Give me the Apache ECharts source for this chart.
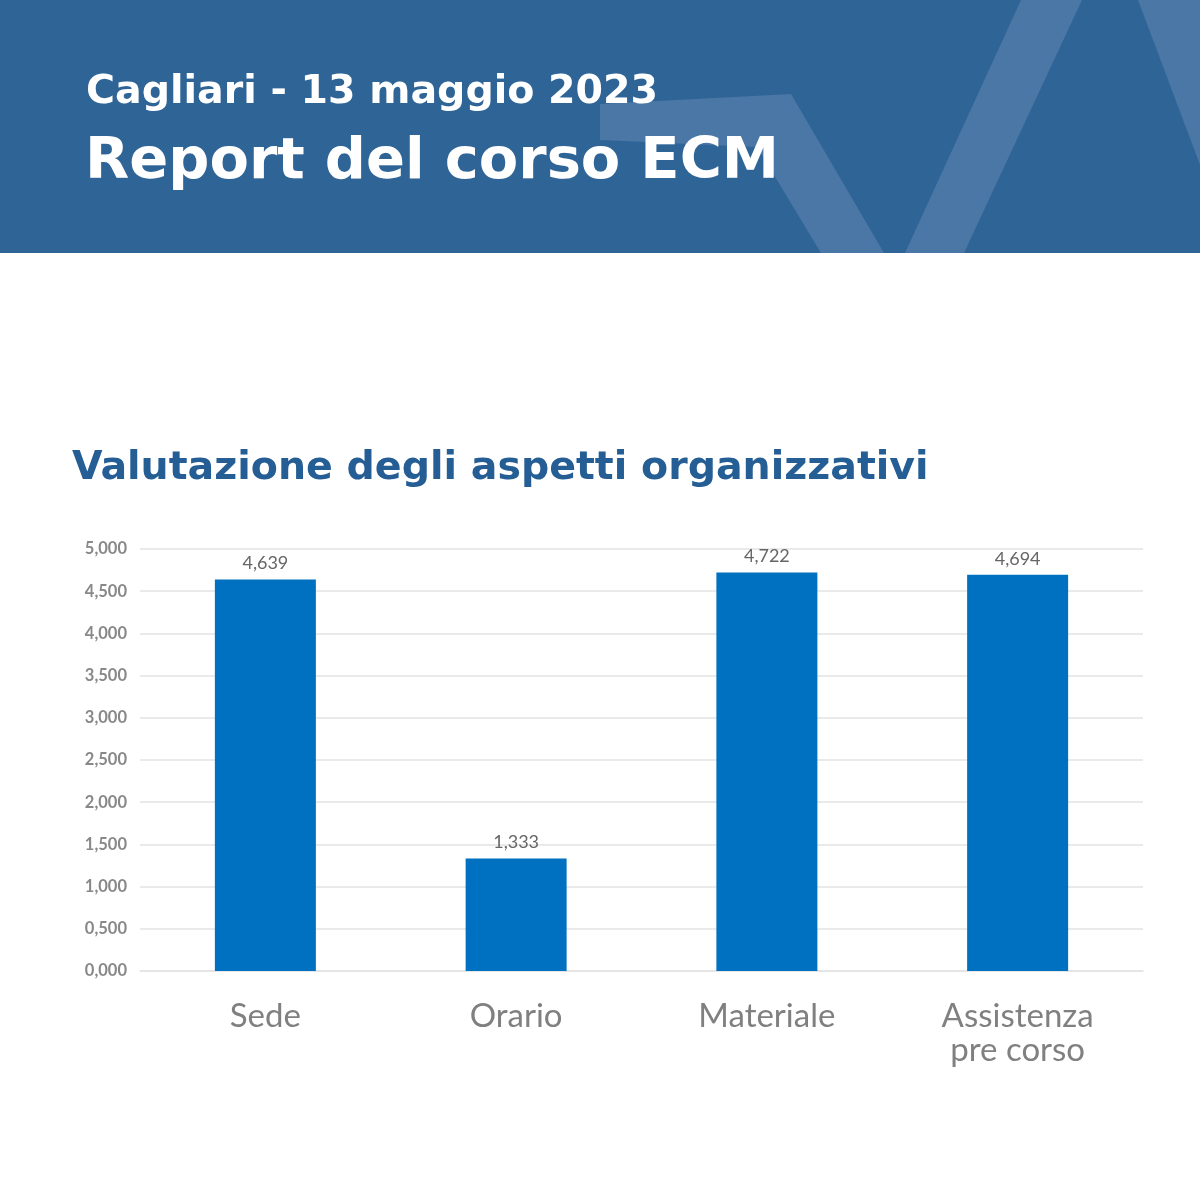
<!DOCTYPE html>
<html>
<head>
<meta charset="utf-8">
<title>Report del corso ECM</title>
<script src="https://cdn.jsdelivr.net/npm/echarts@6/dist/echarts.min.js"></script>
<style>
    html, body { margin: 0; padding: 0; background: #ffffff; }
    #chart { width: 1200px; height: 1200px; }
</style>
</head>
<body>
<div id="chart"></div>
<script>
// dati del grafico
var categories = ['Sede', 'Orario', 'Materiale', 'Assistenza\npre corso'];
var valori = [4.639, 1.333, 4.722, 4.694];
var yMin = 0, yMax = 5, yStep = 0.5;

var bandColor = '#2f6496';
var shapeColor = '#4a77a5';

// numero con virgola decimale
function fmt(v, d) {
    return Number(v).toFixed(d).replace('.', ',');
}

var myChart = echarts.init(document.getElementById('chart'));
var option = {
    backgroundColor: '#ffffff',
    graphic: [
        { type: 'rect', shape: { x: 0, y: 0, width: 1200, height: 253 }, style: { fill: bandColor }, z: 0 },
        { type: 'polygon', shape: { points: [[600, 104], [791, 94], [884, 253], [821, 253], [757, 147], [600, 140]] }, style: { fill: shapeColor }, z: 1 },
        { type: 'polygon', shape: { points: [[905, 253], [964, 253], [1082, 0], [1021, 0]] }, style: { fill: shapeColor }, z: 1 },
        { type: 'polygon', shape: { points: [[1138, 0], [1200, 0], [1200, 165]] }, style: { fill: shapeColor }, z: 1 },
        {
            type: 'text', left: 86, top: 73, z: 5,
            style: { text: 'Cagliari - 13 maggio 2023', fill: '#ffffff', font: 'bold 39.5px "DejaVu Sans"' }
        },
        {
            type: 'text', left: 85, top: 134, z: 5,
            style: { text: 'Report del corso ECM', fill: '#ffffff', font: 'bold 57.5px "DejaVu Sans"' }
        },
        {
            type: 'text', left: 72, top: 449, z: 5,
            style: { text: 'Valutazione degli aspetti organizzativi', fill: '#245e95', font: 'bold 39.5px "DejaVu Sans"' }
        }
    ],
    grid: {
        left: 140,
        right: 57,
        top: 549,
        bottom: 229
    },
    xAxis: {
        type: 'category',
        data: categories,
        axisLine: { lineStyle: { color: '#e3e3e3', width: 1.5 } },
        axisTick: { show: false },
        axisLabel: {
            color: '#808080',
            fontFamily: 'Lato',
            fontSize: 33,
            lineHeight: 34,
            margin: 28,
            interval: 0
        }
    },
    yAxis: {
        type: 'value',
        min: yMin,
        max: yMax,
        interval: yStep,
        axisLine: { show: false },
        axisTick: { show: false },
        splitLine: { lineStyle: { color: '#e3e3e3', width: 1.5 } },
        axisLabel: {
            color: '#888888',
            fontFamily: 'Lato',
            fontWeight: 'bold',
            fontSize: 16.5,
            margin: 13,
            formatter: function (v) { return fmt(v, 3); }
        }
    },
    series: [
        {
            type: 'bar',
            data: valori,
            barWidth: 101,
            itemStyle: { color: '#0070c0' },
            label: {
                show: true,
                position: 'top',
                distance: 7,
                color: '#666666',
                fontFamily: 'Lato',
                fontSize: 18,
                formatter: function (p) { return fmt(p.value, 3); }
            }
        }
    ]
};
myChart.setOption(option);
</script>
</body>
</html>
